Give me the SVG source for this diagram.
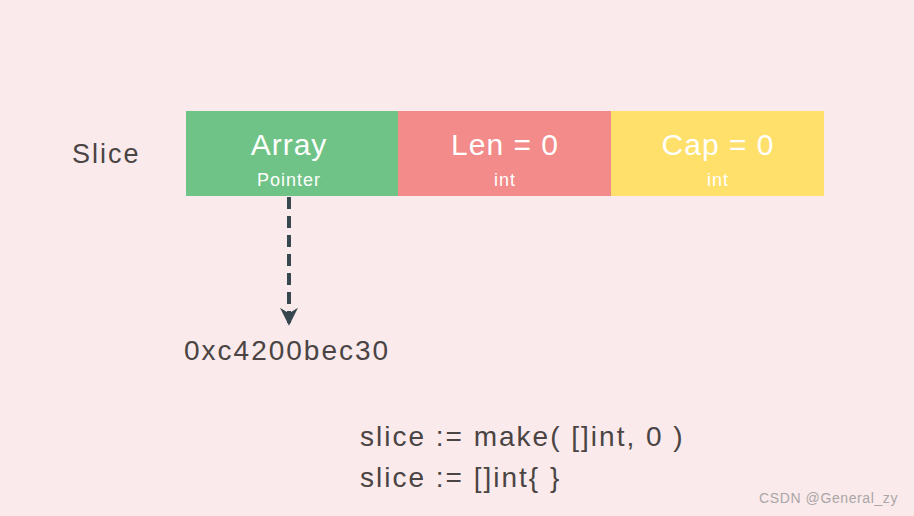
<svg xmlns="http://www.w3.org/2000/svg" width="914" height="516" viewBox="0 0 914 516">
<defs>
<style>
text{font-family:"Liberation Sans","Open Sans",Arial,sans-serif;}
.big{font-size:30px;fill:#ffffff;text-anchor:middle;letter-spacing:1px;}
.small{font-size:18px;fill:#ffffff;text-anchor:middle;letter-spacing:1px;}
.dark{fill:#4a4444;font-size:28px;letter-spacing:2px;}
</style>
<marker id="arr" viewBox="0 0 10 10" refX="9" refY="5" markerWidth="4.5" markerHeight="4.5" orient="auto" markerUnits="strokeWidth">
<path d="M0,0 L10,5 L0,10 L3,5 z" fill="#37474f"/>
</marker>
</defs>
<rect width="914" height="516" fill="#fbeaeb"/>
<text x="72" y="163" class="dark" style="font-size:27px;letter-spacing:2px">Slice</text>
<g id="array">
<rect x="186" y="111" width="212" height="85" fill="#6fc386"/>
<text x="289" y="155" class="big">Array</text>
<text x="289" y="186" class="small">Pointer</text>
</g>
<g id="len">
<rect x="398" y="111" width="213" height="85" fill="#f28b89"/>
<text x="505" y="155" class="big">Len = 0</text>
<text x="505" y="186" class="small">int</text>
</g>
<g id="cap">
<rect x="611" y="111" width="213" height="85" fill="#ffe06b"/>
<text x="718" y="155" class="big">Cap = 0</text>
<text x="718" y="186" class="small">int</text>
</g>
<g id="connectors">
<line x1="289" y1="197" x2="289" y2="324" stroke="#37474f" stroke-width="4" stroke-dasharray="12,7" marker-end="url(#arr)"/>
</g>
<g id="address">
<text x="184" y="360" class="dark">0xc4200bec30</text>
</g>
<g id="code">
<text x="360" y="446" class="dark">slice := make( []int, 0 )</text>
<text x="360" y="487" class="dark">slice := []int{ }</text>
</g>
<text x="898" y="503" style="font-size:14px;fill:#a9a6a6;text-anchor:end;letter-spacing:0.6px">CSDN @General_zy</text>
</svg>
